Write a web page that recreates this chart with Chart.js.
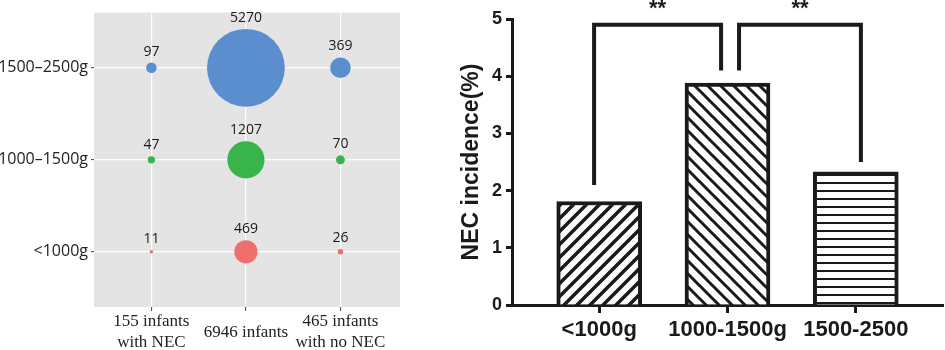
<!DOCTYPE html>
<html>
<head>
<meta charset="utf-8">
<script src="https://cdn.jsdelivr.net/npm/chart.js@4.4.1/dist/chart.umd.min.js"></script>
<style>
  html, body { margin: 0; padding: 0; background: #fff; }
  #wrap { position: relative; width: 945px; height: 350px; overflow: hidden; }
  canvas { position: absolute; top: 0; }
  #bubbles { left: 0; }
  #bars { left: 440px; }
</style>
</head>
<body>
<div id="wrap">
  <canvas id="bubbles" width="440" height="350"></canvas>
  <canvas id="bars" width="505" height="350"></canvas>
</div>
<script>
// ── Left panel data ──
const groupLabels = [['155 infants', 'with NEC'], ['6946 infants'], ['465 infants', 'with no NEC']];
const weightLabels = ['<1000g', '1000–1500g', '1500–2500g'];
const countsUnder1000 = [11, 469, 26];
const counts1000to1500 = [47, 1207, 70];
const counts1500to2500 = [97, 5270, 369];
const weightColors = ['#ef6f6f', '#38b44a', '#5b8ecf'];

// ── Right panel data ──
const barLabels = ['<1000g', '1000-1500g', '1500-2500'];
const necIncidence = [1.81, 3.88, 2.33];
const bracketLeft = [{ x: -0.04, y: 2.1 }, { x: -0.04, y: 4.9 }, { x: 0.95, y: 4.9 }, { x: 0.95, y: 4.1 }];
const bracketRight = [{ x: 1.09, y: 4.1 }, { x: 1.09, y: 4.9 }, { x: 2.04, y: 4.9 }, { x: 2.04, y: 2.5 }];
const sigMark = '**';

const INK = '#1a1a1a';
const BUBBLE_SCALE = 0.536; // radius px per sqrt(count)

// ── Plugins ──
const plotBg = {
    id: 'plotBg',
    beforeDraw(chart) {
        const { ctx, chartArea: a } = chart;
        ctx.save();
        ctx.fillStyle = '#e4e4e4';
        ctx.fillRect(a.left, a.top, a.right - a.left, a.bottom - a.top);
        ctx.restore();
    }
};

const bubbleLabels = {
    id: 'bubbleLabels',
    afterDatasetsDraw(chart) {
        const ctx = chart.ctx;
        ctx.save();
        ctx.font = '14px "Open Sans"';
        ctx.fillStyle = INK;
        ctx.textAlign = 'center';
        ctx.textBaseline = 'middle';
        chart.data.datasets.forEach((ds, i) => {
            chart.getDatasetMeta(i).data.forEach((pt, j) => {
                ctx.fillText(ds.data[j].n, pt.x, pt.y - pt.options.radius - 11);
            });
        });
        ctx.restore();
    }
};

const sigStars = {
    id: 'sigStars',
    afterDatasetsDraw(chart) {
        const { ctx, scales: { x, y } } = chart;
        ctx.save();
        ctx.font = 'bold 22px Arial, "Liberation Sans"';
        ctx.fillStyle = INK;
        ctx.textAlign = 'center';
        ctx.textBaseline = 'alphabetic';
        [bracketLeft, bracketRight].forEach(b => {
            const mid = (b[1].x + b[2].x) / 2;
            ctx.fillText(sigMark, x.getPixelForValue(mid), y.getPixelForValue(b[1].y) - 10);
        });
        ctx.restore();
    }
};

// ── Hatch fills ──
function hatch(kind) {
    const s = kind === 'flat' ? 8 : 13;
    const c = document.createElement('canvas');
    c.width = s; c.height = s;
    const g = c.getContext('2d');
    g.fillStyle = '#fff';
    g.fillRect(0, 0, s, s);
    g.strokeStyle = INK;
    g.beginPath();
    if (kind === 'flat') {
        g.lineWidth = 2;
        g.moveTo(0, s - 1); g.lineTo(s, s - 1);
    } else if (kind === 'fwd') {
        g.lineWidth = 3.5;
        g.moveTo(0, s); g.lineTo(s, 0);
        g.moveTo(-s / 2, s / 2); g.lineTo(s / 2, -s / 2);
        g.moveTo(s / 2, 1.5 * s); g.lineTo(1.5 * s, s / 2);
    } else {
        g.lineWidth = 3;
        g.moveTo(0, 0); g.lineTo(s, s);
        g.moveTo(-s / 2, s / 2); g.lineTo(s / 2, 1.5 * s);
        g.moveTo(s / 2, -s / 2); g.lineTo(1.5 * s, s / 2);
    }
    g.stroke();
    return g.createPattern(c, 'repeat');
}

// ── Bubble chart ──
const bubbleSets = [countsUnder1000, counts1000to1500, counts1500to2500].map((counts, w) => ({
    data: counts.map((n, g) => ({ x: g, y: w, r: BUBBLE_SCALE * Math.sqrt(n), n })),
    backgroundColor: weightColors[w],
    borderWidth: 0,
    hoverBorderWidth: 0
}));

new Chart(document.getElementById('bubbles'), {
    type: 'bubble',
    data: { datasets: bubbleSets },
    options: {
        responsive: false,
        animation: false,
        events: [],
        layout: { autoPadding: false, padding: { top: 12, right: 40, left: 0, bottom: 0 } },
        plugins: { legend: { display: false }, tooltip: { enabled: false } },
        scales: {
            x: {
                type: 'linear', min: -0.607, max: 2.63, offset: false,
                afterBuildTicks: s => { s.ticks = groupLabels.map((l, i) => ({ value: i })); },
                afterFit: s => { s.height = 43; },
                grid: { color: '#fff', lineWidth: 1.2, tickColor: '#444', tickLength: 4, tickWidth: 1 },
                border: { display: false },
                ticks: {
                    callback: v => groupLabels[v],
                    font: { family: '"Liberation Serif", "Times New Roman", serif', size: 17 },
                    color: '#222', padding: 11, crossAlign: 'center', maxRotation: 0, autoSkip: false
                }
            },
            y: {
                type: 'linear', min: -0.6, max: 2.6, offset: false,
                afterBuildTicks: s => { s.ticks = weightLabels.map((l, i) => ({ value: i })); },
                afterFit: s => { s.width = 94; },
                grid: { color: '#fff', lineWidth: 1.2, tickColor: '#444', tickLength: 3, tickWidth: 1 },
                border: { display: false },
                ticks: {
                    callback: v => weightLabels[v],
                    font: { family: '"Open Sans"', size: 16 },
                    color: '#222', padding: 3
                }
            }
        }
    },
    plugins: [plotBg, bubbleLabels]
});

// ── Bar chart ──
const bracketStyle = {
    type: 'line', borderColor: INK, borderWidth: 4, pointRadius: 0,
    fill: false, tension: 0, borderCapStyle: 'butt', borderJoinStyle: 'miter', order: 1
};

new Chart(document.getElementById('bars'), {
    type: 'bar',
    data: {
        datasets: [
            {
                type: 'bar',
                data: necIncidence.map((v, i) => ({ x: i, y: v })),
                backgroundColor: [hatch('fwd'), hatch('back'), hatch('flat')],
                borderColor: INK,
                borderWidth: 4,
                barThickness: 85,
                order: 2
            },
            { ...bracketStyle, data: bracketLeft },
            { ...bracketStyle, data: bracketRight }
        ]
    },
    options: {
        responsive: false,
        animation: false,
        events: [],
        layout: { autoPadding: false, padding: { top: 19, right: 2, left: 0, bottom: 0 } },
        plugins: { legend: { display: false }, tooltip: { enabled: false } },
        scales: {
            x: {
                type: 'linear', min: -0.68, max: 2.68, offset: false,
                afterBuildTicks: s => { s.ticks = barLabels.map((l, i) => ({ value: i })); },
                afterFit: s => { s.height = 45; },
                grid: { offset: false, drawOnChartArea: false, tickLength: 8, tickWidth: 3, tickColor: INK },
                border: { color: INK, width: 3 },
                ticks: {
                    callback: v => barLabels[v],
                    font: { family: 'Arial, "Liberation Sans"', size: 22, weight: 'bold' },
                    color: INK, padding: 4, maxRotation: 0, autoSkip: false
                }
            },
            y: {
                min: 0, max: 5,
                afterFit: s => { s.width = 72; },
                grid: { drawOnChartArea: false, tickLength: 6, tickWidth: 3, tickColor: INK },
                border: { color: INK, width: 3 },
                ticks: {
                    stepSize: 1,
                    font: { family: 'Arial, "Liberation Sans"', size: 18, weight: 'bold' },
                    color: INK, padding: 4
                },
                title: {
                    display: true,
                    text: 'NEC incidence(%)',
                    font: { family: 'Arial, "Liberation Sans"', size: 23, weight: 'bold' },
                    color: INK,
                    padding: { top: 18, bottom: 0 }
                }
            }
        }
    },
    plugins: [sigStars]
});
</script>
</body>
</html>
